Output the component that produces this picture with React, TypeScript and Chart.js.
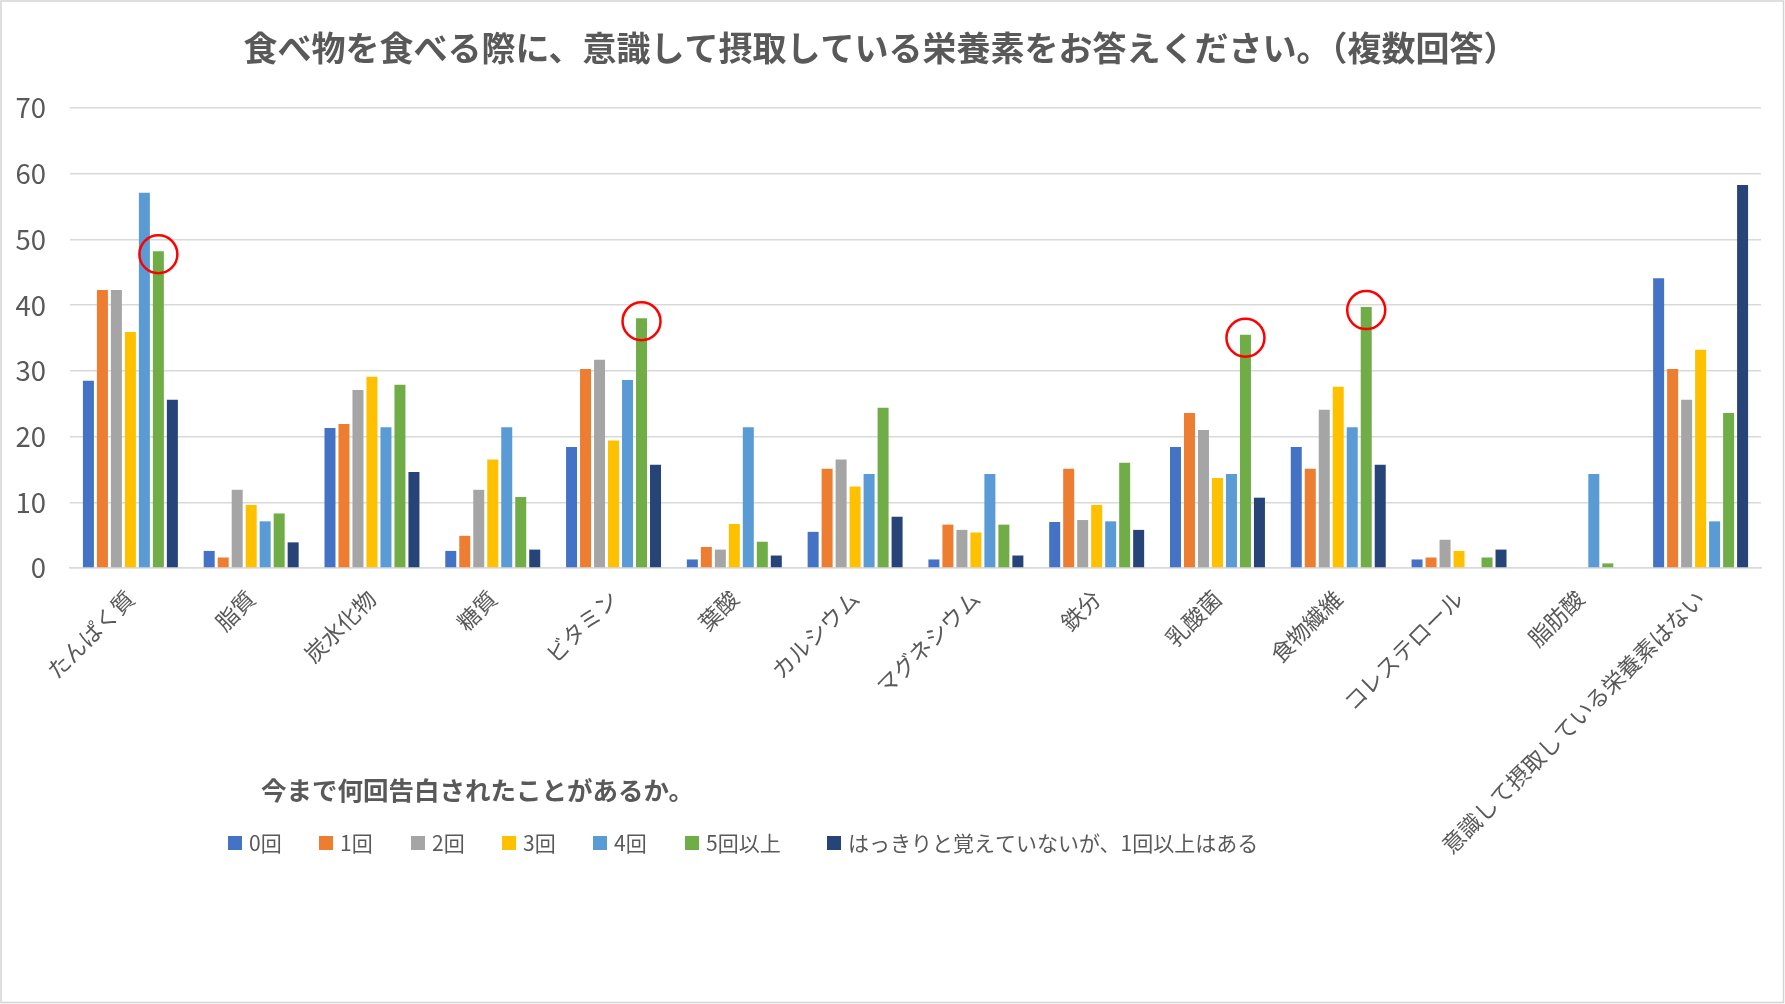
import React, { useEffect, useRef } from "react";
import { Chart, registerables } from "chart.js";

Chart.register(...registerables);

// ---- Data ----
const titleText = "食べ物を食べる際に、意識して摂取している栄養素をお答えください。（複数回答）";
const legendTitle = "今まで何回告白されたことがあるか。";

const categories = [
  "たんぱく質",
  "脂質",
  "炭水化物",
  "糖質",
  "ビタミン",
  "葉酸",
  "カルシウム",
  "マグネシウム",
  "鉄分",
  "乳酸菌",
  "食物繊維",
  "コレステロール",
  "脂肪酸",
  "意識して摂取している栄養素はない",
];

const seriesNames = [
  "0回",
  "1回",
  "2回",
  "3回",
  "4回",
  "5回以上",
  "はっきりと覚えていないが、1回以上はある",
];

const values0 = [28.5, 2.6, 21.3, 2.6, 18.4, 1.3, 5.5, 1.3, 7.0, 18.4, 18.4, 1.3, 0, 44.1];
const values1 = [42.3, 1.6, 21.9, 4.9, 30.3, 3.2, 15.1, 6.6, 15.1, 23.6, 15.1, 1.6, 0, 30.3];
const values2 = [42.3, 11.9, 27.1, 11.9, 31.7, 2.8, 16.5, 5.8, 7.3, 21.0, 24.1, 4.3, 0, 25.6];
const values3 = [35.9, 9.6, 29.1, 16.5, 19.4, 6.7, 12.4, 5.4, 9.6, 13.7, 27.6, 2.6, 0, 33.2];
const values4 = [57.1, 7.1, 21.4, 21.4, 28.6, 21.4, 14.3, 14.3, 7.1, 14.3, 21.4, 0, 14.3, 7.1];
const values5 = [48.2, 8.3, 27.9, 10.8, 38.0, 4.0, 24.4, 6.6, 16.0, 35.5, 39.7, 1.6, 0.7, 23.6];
const values6 = [25.6, 3.9, 14.6, 2.8, 15.7, 1.9, 7.8, 1.9, 5.8, 10.7, 15.7, 2.8, 0, 58.3];

const yTicks = [0, 10, 20, 30, 40, 50, 60, 70];

// Bars circled in red (series "5回以上")
const highlightSeries = "5回以上";
const highlightCategories = ["たんぱく質", "ビタミン", "乳酸菌", "食物繊維"];

// ---- Styles ----
const seriesValues = [values0, values1, values2, values3, values4, values5, values6];
const colors = ["#4472C4", "#ED7D31", "#A5A5A5", "#FFC000", "#5B9BD5", "#70AD47", "#264478"];
const FONT = "'Noto Sans CJK JP', 'Noto Sans', sans-serif";
const TEXT = "#595959";
const GRID = "#d9d9d9";
const legendBoxX = [228, 319, 411, 502, 593, 685, 827];

export default function App() {
  const ref = useRef<HTMLCanvasElement>(null);

  useEffect(() => {
    const canvas = ref.current;
    if (!canvas) return;

    const decorPlugin = {
      id: "decor",
      beforeDraw(chart: any) {
        const ctx = chart.ctx;
        ctx.save();
        ctx.fillStyle = "#ffffff";
        ctx.fillRect(0, 0, chart.width, chart.height);
        ctx.restore();
      },
      afterDatasetsDraw(chart: any) {
        const ctx = chart.ctx;
        const dsIndex = chart.data.datasets.findIndex((d: any) => d.label === highlightSeries);
        if (dsIndex < 0) return;
        const meta = chart.getDatasetMeta(dsIndex);
        ctx.save();
        ctx.strokeStyle = "#FF0000";
        ctx.lineWidth = 2.5;
        highlightCategories.forEach((c) => {
          const i = categories.indexOf(c);
          const el = meta.data[i];
          if (!el) return;
          ctx.beginPath();
          ctx.arc(el.x, el.y + 3, 19, 0, Math.PI * 2);
          ctx.stroke();
        });
        ctx.restore();
      },
      afterDraw(chart: any) {
        const ctx = chart.ctx;
        ctx.save();
        // legend title
        ctx.fillStyle = TEXT;
        ctx.textBaseline = "middle";
        ctx.textAlign = "left";
        ctx.font = `bold 25.5px ${FONT}`;
        ctx.fillText(legendTitle, 261, 790);
        // legend items
        ctx.font = `21px ${FONT}`;
        seriesNames.forEach((name, i) => {
          const x = legendBoxX[i];
          ctx.fillStyle = colors[i];
          ctx.fillRect(x, 836, 14, 14);
          ctx.fillStyle = TEXT;
          ctx.fillText(name, x + 21, 843);
        });
        // outer border
        ctx.strokeStyle = "#d4d4d4";
        ctx.lineWidth = 1.5;
        ctx.strokeRect(1, 1, chart.width - 2.5, chart.height - 2.5);
        ctx.restore();
      },
    };

    const chart = new Chart(canvas, {
      type: "bar",
      data: {
        labels: categories,
        datasets: seriesValues.map((vals, i) => ({
          label: seriesNames[i],
          data: vals,
          backgroundColor: colors[i],
          borderWidth: 0,
          categoryPercentage: 0.811,
          barPercentage: 0.786,
        })),
      },
      options: {
        responsive: false,
        animation: false,
        devicePixelRatio: 1,
        layout: { padding: { left: 0, right: 24, top: 0, bottom: 136 } },
        plugins: {
          legend: { display: false },
          tooltip: { enabled: false },
          title: {
            display: true,
            text: titleText,
            color: TEXT,
            font: { family: FONT, size: 34, weight: "bold", lineHeight: 1.2 },
            padding: { top: 27.6, bottom: 39.6 },
          },
        },
        scales: {
          x: {
            grid: { display: false, drawTicks: false },
            border: { display: true, color: GRID, width: 1.5 },
            ticks: {
              autoSkip: false,
              maxRotation: 45,
              minRotation: 45,
              color: TEXT,
              font: { family: FONT, size: 22.5 },
              padding: 17,
            },
            afterFit: (s: any) => {
              s.height = 300;
            },
          },
          y: {
            min: yTicks[0],
            max: yTicks[yTicks.length - 1],
            afterBuildTicks: (s: any) => {
              s.ticks = yTicks.map((v) => ({ value: v }));
            },
            ticks: {
              color: TEXT,
              font: { family: FONT, size: 27.5 },
              padding: 24,
            },
            grid: { color: GRID, lineWidth: 1.5, drawTicks: false, tickLength: 0 },
            border: { display: false },
            afterFit: (s: any) => {
              s.width = 70;
            },
          },
        },
      },
      plugins: [decorPlugin],
    } as any);

    return () => chart.destroy();
  }, []);

  return (
    <div style={{ position: "absolute", left: 0, top: 0, width: 1785, height: 1004 }}>
      <canvas ref={ref} width={1785} height={1004} style={{ display: "block" }} />
    </div>
  );
}
